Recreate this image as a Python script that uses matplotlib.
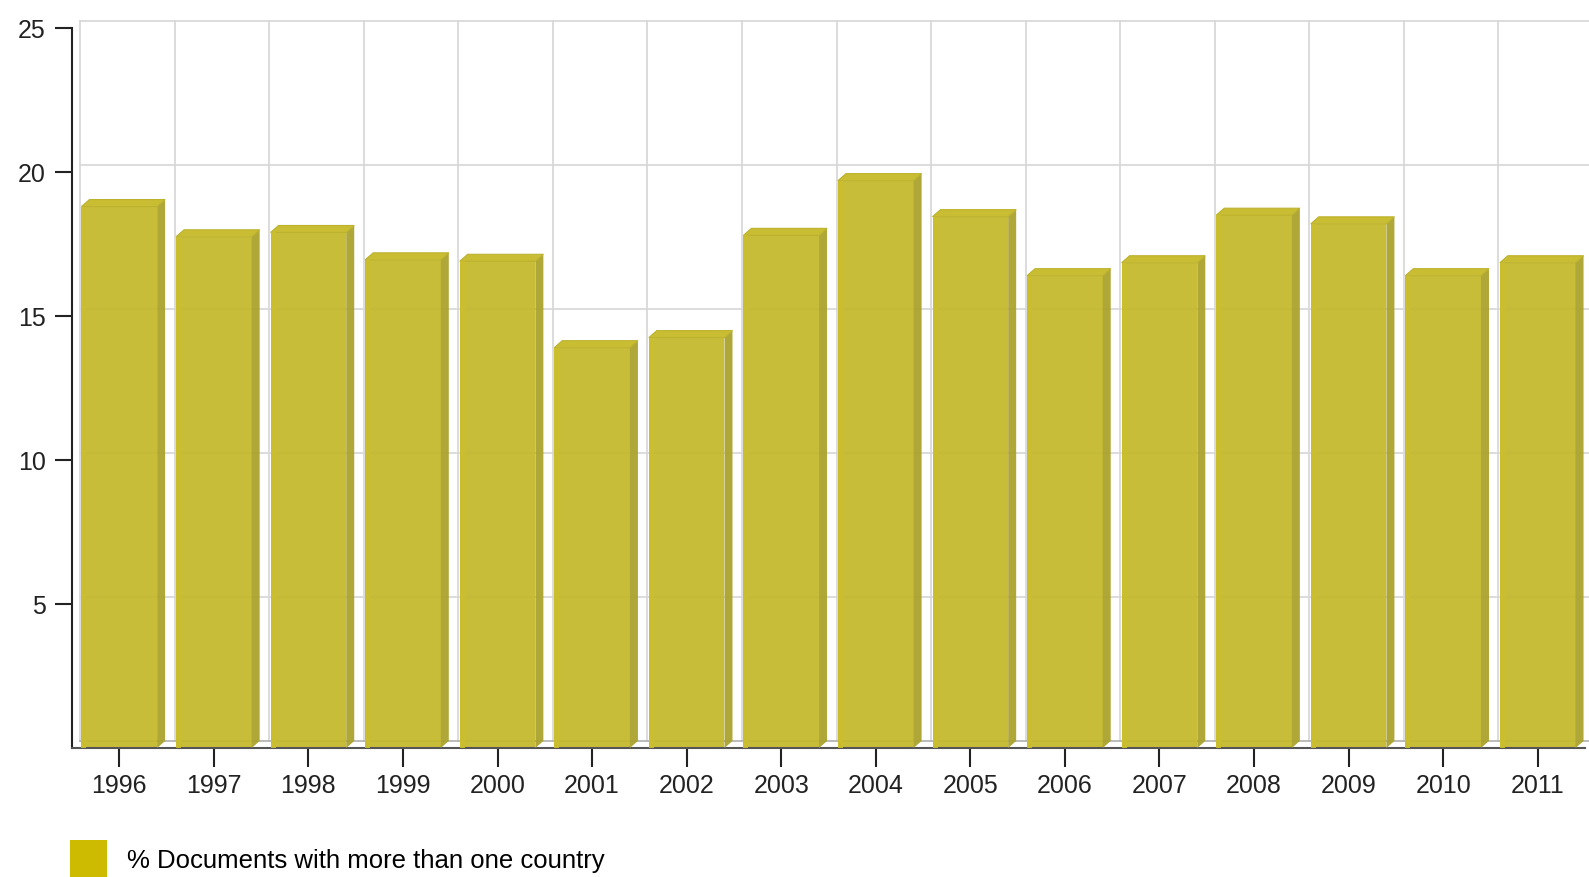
import matplotlib
matplotlib.use("Agg")
import matplotlib.pyplot as plt
from matplotlib.patches import Polygon, Patch
from matplotlib.transforms import ScaledTranslation

# Datos
years = ['1996', '1997', '1998', '1999', '2000', '2001', '2002', '2003',
         '2004', '2005', '2006', '2007', '2008', '2009', '2010', '2011']
pct_intl = [18.8, 17.75, 17.9, 16.95, 16.9, 13.9, 14.25, 17.8,
            19.7, 18.45, 16.4, 16.85, 18.5, 18.2, 16.4, 16.85]
y_ticks = [5, 10, 15, 20, 25]
serie = '% Documents with more than one country'

plt.rcParams['font.family'] = ['Liberation Sans', 'DejaVu Sans']

W, H, DPI = 1589, 877, 100
fig = plt.figure(figsize=(W / DPI, H / DPI), dpi=DPI)
ax = fig.add_axes([72 / W, 1 - 748 / H, (1585 - 72) / W, (748 - 28) / H])

x = list(range(len(years)))
ax.set_xlim(-0.5, len(years) - 0.5)
ax.set_ylim(0, 25)

# desplazamiento "3D" (pixeles)
dx, dy = 8, 7
off = ax.transData + ScaledTranslation(dx / DPI, dy / DPI, fig.dpi_scale_trans)

grid_c = '#d6d6d6'
# rejilla del fondo
for yt in y_ticks:
    ax.plot([-0.5, len(years) - 0.5], [yt, yt], color=grid_c, lw=1.2,
            transform=off, clip_on=False, zorder=0)
for b in [i + 0.5 for i in x[:-1]] + [-0.5]:
    ax.plot([b, b], [0, 25], color=grid_c, lw=1.2, transform=off,
            clip_on=False, zorder=0)
# suelo
ax.plot([-0.5, len(years) - 0.5], [0, 0], color='#b0b0b0', lw=1.2,
        transform=off, clip_on=False, zorder=0)

# barras (cara frontal)
w = 0.8
bars = ax.bar(x, pct_intl, width=w, color='#c4b82a', alpha=0.93,
              edgecolor='none', zorder=2)

# caras lateral y superior
to_disp = ax.transData.transform
for xi, v in zip(x, pct_intl):
    (xl, y0), (xr, yv) = to_disp([(xi - w / 2, 0), (xi + w / 2, v)])
    side = Polygon([(xr, y0), (xr, yv), (xr + dx, yv + dy), (xr + dx, y0 + dy)],
                   closed=True, transform=None, facecolor='#aba22d',
                   edgecolor='none', alpha=0.95, zorder=2)
    top = Polygon([(xl, yv), (xr, yv), (xr + dx, yv + dy), (xl + dx, yv + dy)],
                  closed=True, transform=None, facecolor='#c9bd33',
                  edgecolor='#bdb22d', lw=0.8, zorder=2)
    fig.add_artist(side)
    fig.add_artist(top)
    hl = Polygon([(xl, y0), (xl, yv), (xl + 5, yv), (xl + 5, y0)], closed=True,
                 transform=None, facecolor='#cbbf2e', edgecolor='none',
                 alpha=0.9, zorder=2)
    fig.add_artist(hl)

# ejes
for s in ['top', 'right']:
    ax.spines[s].set_visible(False)
ax.spines['left'].set_color('#222222')
ax.spines['left'].set_linewidth(1.5)
ax.spines['bottom'].set_color('#555555')
ax.spines['bottom'].set_linewidth(1.5)
ax.set_facecolor('none')

ax.set_yticks(y_ticks)
ax.set_yticklabels([str(t) for t in y_ticks])
ax.set_xticks(x)
ax.set_xticklabels(years)
ax.tick_params(axis='y', length=12, width=1.5, color='#222222', pad=7,
               labelsize=18, labelcolor='#222222')
ax.tick_params(axis='x', length=13.5, width=1.5, color='#222222', pad=5,
               labelsize=18, labelcolor='#222222')

# leyenda
ax.legend(handles=[Patch(facecolor='#ccbb00', edgecolor='none', label=serie)],
          loc='upper left', bbox_to_anchor=(70 / W, 1 - 840 / H),
          bbox_transform=fig.transFigure, frameon=False, fontsize=18.5,
          handlelength=1.45, handleheight=2.0, handletextpad=0.75,
          borderpad=0, borderaxespad=0)

fig.savefig('out.png', dpi=DPI)
